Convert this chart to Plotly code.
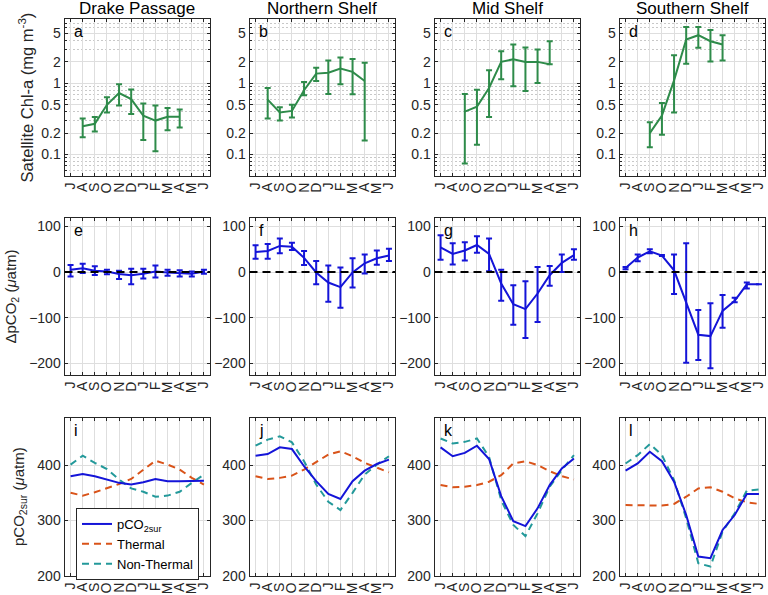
import math
import plotly.graph_objects as go

# ---------------- data ----------------
months = ["J", "A", "S", "O", "N", "D", "J", "F", "M", "A", "M", "J"]
month_pos = list(range(1, 13))
regions = ["Drake Passage", "Northern Shelf", "Mid Shelf", "Southern Shelf"]
letters = list("abcdefghijkl")

# Satellite Chl-a (mg m-3): month index, mean, upper bound, lower bound
chl_x_a = [2, 3, 4, 5, 6, 7, 8, 9, 10]
chl_a = [0.25, 0.27, 0.50, 0.73, 0.60, 0.35, 0.30, 0.34, 0.34]
chl_a_hi = [0.32, 0.336, 0.64, 0.97, 0.82, 0.52, 0.49, 0.45, 0.43]
chl_a_lo = [0.175, 0.21, 0.39, 0.49, 0.37, 0.16, 0.111, 0.22, 0.24]

chl_x_b = [2, 3, 4, 5, 6, 7, 8, 9, 10]
chl_b = [0.59, 0.39, 0.41, 0.80, 1.37, 1.41, 1.61, 1.45, 1.08]
chl_b_hi = [0.86, 0.46, 0.50, 1.04, 1.66, 2.1, 2.3, 2.2, 1.95]
chl_b_lo = [0.32, 0.30, 0.33, 0.68, 1.08, 0.71, 0.97, 0.70, 0.157]

chl_x_c = [3, 4, 5, 6, 7, 8, 9, 10]
chl_c = [0.40, 0.47, 0.86, 2.0, 2.18, 2.0, 2.0, 1.85]
chl_c_hi = [0.71, 0.81, 1.52, 2.82, 3.5, 3.18, 2.98, 3.9]
chl_c_lo = [0.075, 0.137, 0.336, 1.14, 0.91, 0.78, 1.01, 1.85]

chl_x_d = [3, 4, 5, 6, 7, 8, 9]
chl_d = [0.20, 0.354, 1.1, 4.12, 4.74, 3.9, 3.5]
chl_d_hi = [0.285, 0.53, 2.48, 6.2, 6.2, 5.6, 4.74]
chl_d_lo = [0.127, 0.19, 0.39, 1.89, 3.15, 2.02, 2.1]

# Delta pCO2 (uatm): mean, upper, lower
dp_e = [5, 8, 3, 1, -4.5, -7, -4, 1, -1, -2, -4, 1]
dp_e_hi = [15.5, 18, 12.6, 5, 3, 7, 7, 14, 5, 4, 1, 5]
dp_e_lo = [-10, -2, -6.7, -5, -15.5, -27, -14, -12, -8, -10, -10, -4]

dp_f = [43.7, 46, 57, 55, 31, -1, -23, -33, -1, 19, 30, 36]
dp_f_hi = [58.5, 61, 73, 64, 46, 24, 14, 10, 30, 38.5, 47, 51]
dp_f_lo = [29, 29, 41, 48, 15.5, -27, -65, -78, -34, -3, 16, 24]

dp_g = [54, 39.5, 47, 59, 39.5, -25, -70.5, -81, -47, -7, 20, 37]
dp_g_hi = [80.5, 62.6, 65, 78, 73, 5, -29, -20, 11, 13, 38, 50]
dp_g_lo = [27, 16.5, 25, 42, 1.4, -63, -115, -144, -109, -30, 0, 27]

dp_h = [8.6, 31.7, 45, 36, 3.6, -65, -137, -140, -85, -63, -27, -27]
dp_h_hi = [11, 38, 50, 37, 38, 63, -83, -68, -50, -56, -23, -27]
dp_h_lo = [6, 23.7, 41, 35, -48, -198, -192, -210, -122, -66, -36, -27]

# pCO2 surface, thermal and non-thermal components (uatm)
sur_i = [380, 384, 380, 374, 368, 365, 369, 375, 371, 371, 371, 372]
th_i = [350, 345, 351, 358, 366, 375, 392, 408, 401, 392, 377, 365]
nt_i = [401, 417, 404, 393, 374, 358, 352, 343, 345, 352, 368, 383]

sur_j = [417, 420, 432, 429, 398, 371, 348, 339, 371, 390, 402, 410]
th_j = [380, 375, 377, 381, 392, 405, 419, 425, 416, 404, 396, 387]
nt_j = [435, 446, 452, 441, 407, 365, 334, 319, 350, 383, 401, 416]

sur_k = [432, 416, 422, 435, 411, 344, 299, 290, 322, 364, 394, 412]
th_k = [364, 360, 361, 364, 370, 382, 403, 407, 400, 389, 380, 374]
nt_k = [448, 439, 442, 448, 415, 337, 292, 272, 313, 361, 391, 418]

sur_l = [390, 403, 424, 407, 370, 310, 235, 232, 283, 310, 348, 348]
th_l = [328, 328, 327, 327, 330, 343, 358, 360, 352, 340, 333, 330]
nt_l = [403, 418, 438, 418, 373, 304, 223, 217, 280, 313, 354, 356]

# ---------------- style ----------------
FONT = "Liberation Sans, Arial, Helvetica, sans-serif"
AX = "#262626"
GRID = "#dedede"
MINGRID = "#c8c8c8"
GREEN = "#2e8b4a"
BLUE = "#1414d8"
ORANGE = "#d95319"
TEAL = "#23999a"

W, H = 768, 595
lefts = [64.5, 249.5, 434.5, 619.5]
pw = 145.5
tops = [19, 218, 418]
bottoms = [176, 375, 576]

fig = go.Figure()


def axid(k):
    return "" if k == 1 else str(k)


chl_sets = [
    (chl_x_a, chl_a, chl_a_hi, chl_a_lo),
    (chl_x_b, chl_b, chl_b_hi, chl_b_lo),
    (chl_x_c, chl_c, chl_c_hi, chl_c_lo),
    (chl_x_d, chl_d, chl_d_hi, chl_d_lo),
]
dp_sets = [
    (dp_e, dp_e_hi, dp_e_lo),
    (dp_f, dp_f_hi, dp_f_lo),
    (dp_g, dp_g_hi, dp_g_lo),
    (dp_h, dp_h_hi, dp_h_lo),
]
pc_sets = [
    (sur_i, th_i, nt_i),
    (sur_j, th_j, nt_j),
    (sur_k, th_k, nt_k),
    (sur_l, th_l, nt_l),
]

layout = {}
for r in range(3):
    for c in range(4):
        k = r * 4 + c + 1
        xd = [lefts[c] / W, (lefts[c] + pw) / W]
        yd = [1 - bottoms[r] / H, 1 - tops[r] / H]
        layout["xaxis" + axid(k)] = dict(
            domain=xd, anchor="y" + axid(k), range=[0.5, 12.5],
            tickmode="array", tickvals=month_pos, ticktext=months,
            tickangle=-90, ticks="inside", ticklen=3, tickcolor=AX,
            showline=True, linecolor=AX, linewidth=1, mirror="ticks",
            showgrid=True, gridcolor=GRID, gridwidth=1, zeroline=False,
            tickfont=dict(family=FONT, size=14, color=AX), automargin=False,
        )
        ya = dict(
            domain=yd, anchor="x" + axid(k), ticks="inside", ticklen=3,
            tickcolor=AX, showline=True, linecolor=AX, linewidth=1,
            mirror="ticks", showgrid=True, gridcolor=GRID, gridwidth=1,
            zeroline=False, tickfont=dict(family=FONT, size=14, color=AX),
            automargin=False,
        )
        if r == 0:
            ya.update(
                type="log", range=[math.log10(0.05), math.log10(8)],
                tickmode="array", tickvals=[0.1, 0.2, 0.5, 1, 2, 5],
                ticktext=["0.1", "0.2", "0.5", "1", "2", "5"],
                minor=dict(
                    tickmode="array",
                    tickvals=[0.05, 0.06, 0.07, 0.08, 0.09, 0.3, 0.4, 0.6,
                              0.7, 0.8, 0.9, 3, 4, 6, 7],
                    ticks="inside", ticklen=2, tickcolor=AX,
                    showgrid=True, gridcolor=MINGRID, griddash="2px,2px",
                    gridwidth=1,
                ),
            )
        elif r == 1:
            ya.update(range=[-225, 118], tickmode="array",
                      tickvals=[-200, -100, 0, 100])
        else:
            ya.update(range=[200, 485], tickmode="array",
                      tickvals=[200, 300, 400])
        layout["yaxis" + axid(k)] = ya

# row 1: chlorophyll
for c, (xs, ys, hi, lo) in enumerate(chl_sets):
    k = c + 1
    fig.add_trace(go.Scatter(
        x=xs, y=ys, mode="lines", line=dict(color=GREEN, width=2),
        error_y=dict(type="data", symmetric=False,
                     array=[h - v for h, v in zip(hi, ys)],
                     arrayminus=[v - l for v, l in zip(ys, lo)],
                     color=GREEN, thickness=2, width=3),
        xaxis="x" + axid(k), yaxis="y" + axid(k), showlegend=False,
    ))

# row 2: delta pCO2
for c, (ys, hi, lo) in enumerate(dp_sets):
    k = 4 + c + 1
    fig.add_shape(type="line", xref="x" + axid(k) + " domain", x0=0, x1=1,
                  yref="y" + axid(k), y0=0, y1=0, layer="above",
                  line=dict(color="black", width=2, dash="8px,5px"))
    fig.add_trace(go.Scatter(
        x=month_pos, y=ys, mode="lines", line=dict(color=BLUE, width=2),
        error_y=dict(type="data", symmetric=False,
                     array=[h - v for h, v in zip(hi, ys)],
                     arrayminus=[v - l for v, l in zip(ys, lo)],
                     color=BLUE, thickness=2, width=3),
        xaxis="x" + axid(k), yaxis="y" + axid(k), showlegend=False,
    ))

# row 3: pCO2 decomposition
for c, (sur, th, nt) in enumerate(pc_sets):
    k = 8 + c + 1
    show = c == 0
    fig.add_trace(go.Scatter(
        x=month_pos, y=th, mode="lines", name="Thermal",
        line=dict(color=ORANGE, width=2, dash="7px,5px"),
        xaxis="x" + axid(k), yaxis="y" + axid(k), showlegend=show,
        legendrank=2,
    ))
    fig.add_trace(go.Scatter(
        x=month_pos, y=nt, mode="lines", name="Non-Thermal",
        line=dict(color=TEAL, width=2, dash="7px,5px"),
        xaxis="x" + axid(k), yaxis="y" + axid(k), showlegend=show,
        legendrank=3,
    ))
    fig.add_trace(go.Scatter(
        x=month_pos, y=sur, mode="lines", name="pCO<sub>2sur</sub>",
        line=dict(color=BLUE, width=2),
        xaxis="x" + axid(k), yaxis="y" + axid(k), showlegend=show,
        legendrank=1,
    ))

annotations = []
# column titles
for c, name in enumerate(regions):
    annotations.append(dict(
        text=name, xref="paper", yref="paper",
        x=(lefts[c] + pw / 2) / W, y=1 - 9 / H, xanchor="center",
        yanchor="middle", showarrow=False,
        font=dict(family=FONT, size=17, color="black"),
    ))
# panel letters
for r in range(3):
    for c in range(4):
        k = r * 4 + c
        annotations.append(dict(
            text=letters[k], xref="paper", yref="paper",
            x=(lefts[c] + 7) / W, y=1 - (tops[r] + 2) / H,
            xanchor="left", yanchor="top", showarrow=False,
            font=dict(family=FONT, size=16, color="black"),
        ))
# y-axis titles
ytitles = [
    ("Satellite Chl-a (mg m<sup>-3</sup>)", 27, 16.5),
    ("\u0394pCO<sub>2</sub> (<i>\u03bc</i>atm)", 11, 15),
    ("pCO<sub>2sur</sub> (<i>\u03bc</i>atm)", 19, 15),
]
for r, (t, xp, fs) in enumerate(ytitles):
    annotations.append(dict(
        text=t, xref="paper", yref="paper", x=xp / W,
        y=1 - (tops[r] + bottoms[r]) / 2 / H, xanchor="center",
        yanchor="middle", textangle=-90, showarrow=False,
        font=dict(family=FONT, size=fs, color=AX),
    ))

fig.update_layout(
    **layout,
    width=W, height=H, margin=dict(l=0, r=0, t=0, b=0, autoexpand=False),
    paper_bgcolor="white", plot_bgcolor="white",
    annotations=annotations,
    legend=dict(
        x=76 / W, y=1 - 508 / H, xanchor="left", yanchor="top",
        bgcolor="white", bordercolor=AX, borderwidth=1,
        font=dict(family=FONT, size=13, color="black"),
        itemwidth=30, tracegroupgap=0,
    ),
    font=dict(family=FONT),
)

fig.write_html(
    "out.html",
    config={"displayModeBar": False},
    post_script="document.body.style.margin='0';document.body.style.padding='0';",
)
